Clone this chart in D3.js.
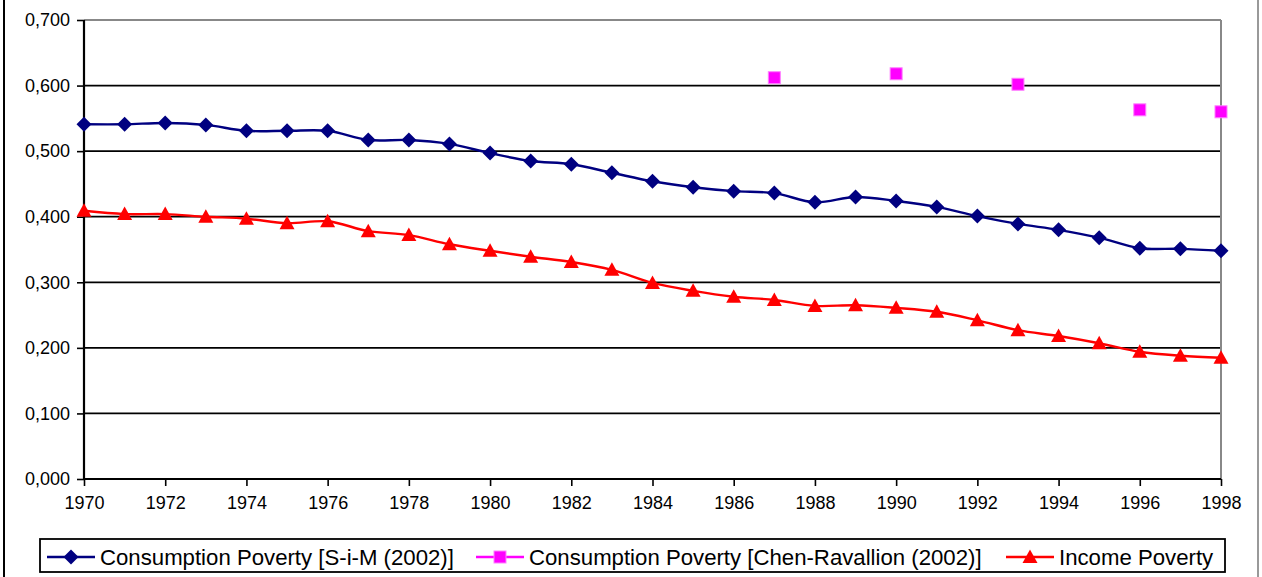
<!DOCTYPE html>
<html><head><meta charset="utf-8">
<script src="https://cdn.jsdelivr.net/npm/d3@7/dist/d3.min.js"></script>
<style>body{margin:0;background:#fff}svg{display:block}text{font-family:"Liberation Sans",Arial,sans-serif}</style>
</head><body>
<svg id="c" width="1262" height="577"></svg>
<script>
const years = d3.range(1970, 1999);
const simValues = [0.541,0.541,0.543,0.540,0.531,0.531,0.531,0.517,0.517,0.511,0.497,0.485,0.480,0.467,0.454,0.445,0.439,0.436,0.422,0.430,0.424,0.415,0.401,0.389,0.380,0.368,0.352,0.351,0.348];
const crYears = [1987, 1990, 1993, 1996, 1998];
const crValues = [0.612, 0.618, 0.602, 0.563, 0.560];
const incomeValues = [0.409,0.404,0.404,0.400,0.397,0.390,0.393,0.378,0.372,0.358,0.348,0.339,0.331,0.319,0.299,0.287,0.278,0.273,0.264,0.265,0.261,0.255,0.242,0.227,0.218,0.207,0.194,0.188,0.185];
const yTicks = [0,0.1,0.2,0.3,0.4,0.5,0.6,0.7];
const xTicks = d3.range(1970, 1999, 2);
const seriesNames = ["Consumption Poverty [S-i-M (2002)]","Consumption Poverty [Chen-Ravallion (2002)]","Income Poverty"];
const seriesColors = ["#000080", "#ff00ff", "#ff0000"];

const svg = d3.select("#c");
const L = 84, R = 1221, T = 20, B = 479;
const x = d3.scaleLinear().domain([1970, 1998]).range([L, R]);
const y = d3.scaleLinear().domain([0, 0.7]).range([B, T]);
const fmt = v => d3.format(".3f")(v).replace(".", ",");

// outer chart border
svg.append("line").attr("x1",4).attr("x2",4).attr("y1",0).attr("y2",577).attr("stroke","#000").attr("stroke-width",2);
svg.append("line").attr("x1",1258).attr("x2",1258).attr("y1",0).attr("y2",577).attr("stroke","#999").attr("stroke-width",2);

// gridlines
svg.append("g").selectAll("line").data(yTicks.filter(d=>d>0 && d<0.7)).join("line")
  .attr("x1",L).attr("x2",R).attr("y1",d=>y(d)).attr("y2",d=>y(d))
  .attr("stroke","#000").attr("stroke-width",1.8);
// plot border top/right gray
svg.append("line").attr("x1",L).attr("x2",R).attr("y1",T).attr("y2",T).attr("stroke","#888").attr("stroke-width",2);
svg.append("line").attr("x1",R).attr("x2",R).attr("y1",T).attr("y2",B).attr("stroke","#888").attr("stroke-width",2);

// axes
const yAxis = d3.axisLeft(y).tickValues(yTicks).tickFormat(fmt).tickSize(7).tickPadding(7);
const gy = svg.append("g").attr("transform",`translate(${L},0)`).call(yAxis);
const xAxis = d3.axisBottom(x).tickValues(xTicks).tickFormat(d3.format("d")).tickSize(7).tickPadding(10);
const gx = svg.append("g").attr("transform",`translate(0,${B})`).call(xAxis);
[gy,gx].forEach(g=>{
  g.select(".domain").attr("stroke","#000").attr("stroke-width",2.2);
  g.selectAll(".tick line").attr("stroke","#000").attr("stroke-width",1.6);
  g.selectAll("text").attr("font-family","Liberation Sans, Arial, sans-serif").attr("font-size",18).attr("fill","#000");
});
gy.select(".domain").attr("d",`M0,${T}V${B}`);
gx.select(".domain").attr("d",`M${L},0H${R}`);

// lines
const line = d3.line().x(d=>x(d[0])).y(d=>y(d[1])).curve(d3.curveCatmullRom.alpha(0.5));
const simData = years.map((yr,i)=>[yr, simValues[i]]);
const incData = years.map((yr,i)=>[yr, incomeValues[i]]);
const crData = crYears.map((yr,i)=>[yr, crValues[i]]);
svg.append("path").datum(simData).attr("d",line).attr("fill","none").attr("stroke",seriesColors[0]).attr("stroke-width",2.4);
svg.append("path").datum(incData).attr("d",line).attr("fill","none").attr("stroke",seriesColors[2]).attr("stroke-width",2.4);

const diamond = (cx,cy,s)=>`M${cx},${cy-s}L${cx+s},${cy}L${cx},${cy+s}L${cx-s},${cy}Z`;
const tri = (cx,cy,s)=>`M${cx},${cy-s}L${cx+s},${cy+s*0.8}L${cx-s},${cy+s*0.8}Z`;

svg.append("g").selectAll("path").data(simData).join("path")
  .attr("d",d=>diamond(x(d[0]),y(d[1]),7.5)).attr("fill",seriesColors[0]);
svg.append("g").selectAll("path").data(incData).join("path")
  .attr("d",d=>tri(x(d[0]),y(d[1]),7.5)).attr("fill",seriesColors[2]);
svg.append("g").selectAll("rect").data(crData).join("rect")
  .attr("x",d=>x(d[0])-6).attr("y",d=>y(d[1])-6).attr("width",12).attr("height",12)
  .attr("fill",seriesColors[1]).attr("stroke","#ff80ff").attr("stroke-width",1);

// legend
const lg = svg.append("g");
lg.append("rect").attr("x",40).attr("y",539).attr("width",1185).attr("height",33).attr("fill","#fff").attr("stroke","#000").attr("stroke-width",1.8);
const ly = 557;
const legendX = [47, 476, 1006];
const legendMarks = ["d", "s", "t"];
// legend sample lines
lg.append("g").selectAll("path").data(legendX).join("path")
  .attr("d",(d)=>`M${d},${ly}H${d+48}`)
  .attr("stroke",(d,i)=>seriesColors[i]).attr("stroke-width",2.6).attr("fill","none");
legendX.forEach((x0,i)=>{
  const cx = x0+24;
  if(legendMarks[i]==="d") lg.append("path").attr("d",diamond(cx,ly,7.5)).attr("fill",seriesColors[i]);
  if(legendMarks[i]==="t") lg.append("path").attr("d",tri(cx,ly,7.5)).attr("fill",seriesColors[i]);
  if(legendMarks[i]==="s") lg.append("rect").attr("x",cx-6).attr("y",ly-6).attr("width",12).attr("height",12).attr("fill",seriesColors[i]).attr("stroke","#ff80ff");
  lg.append("text").attr("x",x0+53).attr("y",ly+8).attr("font-size",22.2).attr("fill","#000").text(seriesNames[i]);
});
</script>
</body></html>
